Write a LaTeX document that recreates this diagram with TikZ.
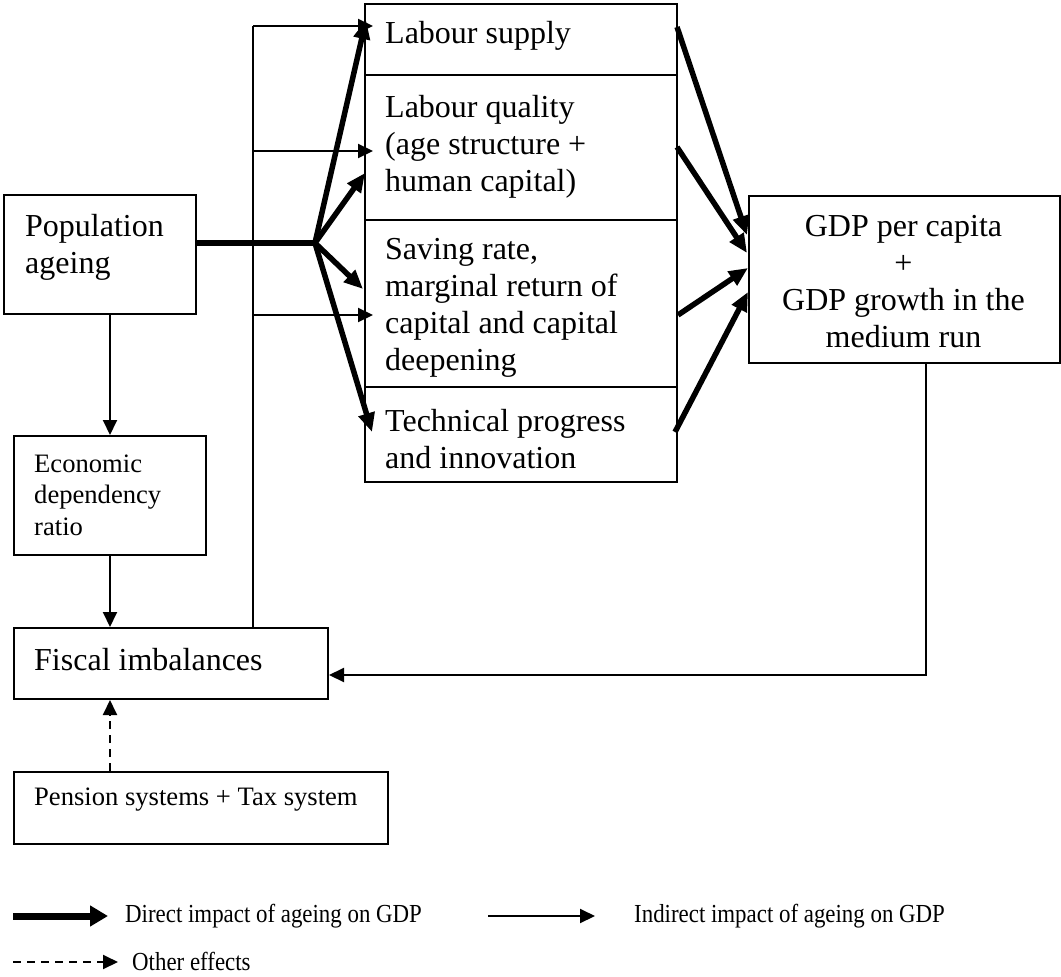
\documentclass[tikz,border=0pt]{standalone}
\usepackage{fontspec}
\usepackage{graphicx}
\setmainfont{Liberation Serif}
\usetikzlibrary{arrows.meta}
\newcommand{\legtext}[1]{\scalebox{0.88}[1]{#1}}
\begin{document}
\begin{tikzpicture}[x=1pt,y=-1pt,
  box/.style={draw, line width=2pt, rectangle, inner sep=0pt, anchor=north west},
  big/.style={font=\fontsize{32}{37}\selectfont, align=left, inner sep=0pt, anchor=west},
  small/.style={font=\fontsize{26.6}{31.5}\selectfont, align=left, inner sep=0pt, anchor=west},
  leg/.style={font=\fontsize{26}{30}\selectfont, inner sep=0pt, anchor=west},
  thinarrow/.style={line width=2pt, -{Triangle[length=15pt,width=14pt]}},
  thinline/.style={line width=2pt},
  fatarrow/.style={line width=5.5pt, -{Triangle[length=19pt,width=16pt]}},
  dasharrow/.style={line width=2pt, dash pattern=on 8pt off 6pt, -{Triangle[length=15pt,width=14pt]}}
]
\useasboundingbox[fill=white] (0,0) rectangle (1061,977);

% boxes
\node[box, minimum width=192pt, minimum height=119pt] (pop) at (3,194) {};
\node[big] (poptxt) at (25,247) {Population\\ageing};
\node[box, minimum width=192pt, minimum height=119pt] (econ) at (13,435) {};
\node[small] (econtxt) at (34,495) {Economic\\dependency\\ratio};
\node[box, minimum width=314pt, minimum height=71pt] (fisc) at (13,627) {};
\node[big] (fisctxt) at (34,660) {Fiscal imbalances};
\node[box, minimum width=374pt, minimum height=72pt] (pen) at (13,771) {};
\node[small] (pentxt) at (34,800) {Pension systems + Tax system};

\node[box, minimum width=312pt, minimum height=71pt] (lab) at (364,3) {};
\node[big] (labtxt) at (385,36) {Labour supply};
\node[box, minimum width=312pt, minimum height=145pt] (qual) at (364,74) {};
\node[big] (qualtxt) at (385,147) {Labour quality\\(age structure +\\human capital)};
\node[box, minimum width=312pt, minimum height=167pt] (sav) at (364,219) {};
\node[big] (savtxt) at (385,308) {Saving rate,\\marginal return of\\capital and capital\\deepening};
\node[box, minimum width=312pt, minimum height=95pt] (tech) at (364,386) {};
\node[big] (techtxt) at (385,439) {Technical progress\\and innovation};

\node[box, minimum width=311pt, minimum height=167pt] (gdp) at (748,195) {};
\node[big, align=center, anchor=center] (gdptxt) at (903.5,282) {GDP per capita\\+\\GDP growth in the\\medium run};

% coordinates
\coordinate (hub) at (315,243);
\coordinate (vtop) at (253,26);
\coordinate (t1) at (373,26);
\coordinate (t2) at (373,151);
\coordinate (t3) at (373,315);
\coordinate (f1) at (366,20);
\coordinate (f2) at (365,173);
\coordinate (f3) at (363,289);
\coordinate (f4) at (372,432);
\coordinate (r1s) at (677,27);
\coordinate (r2s) at (677,147);
\coordinate (r3s) at (678,315);
\coordinate (r4s) at (675,432);
\coordinate (r1e) at (747,235);
\coordinate (r2e) at (747,253);
\coordinate (r3e) at (748,268);
\coordinate (r4e) at (748,292);
\coordinate (fb) at (926,675);
\coordinate (penx) at (110,771);

% left column
\draw[thinarrow] (econ.north |- pop.south) -- (econ.north);
\draw[thinarrow] (econ.south) -- (econ.south |- fisc.north);
\draw[dasharrow] (penx) -- (penx |- fisc.south);

% indirect
\draw[thinline] (vtop |- fisc.north) -- (vtop);
\draw[thinarrow] (vtop) -- (t1);
\draw[thinarrow] (vtop |- t2) -- (t2);
\draw[thinarrow] (vtop |- t3) -- (t3);

% direct
\draw[line width=6pt] (pop.east |- hub) -- (hub);
\draw[fatarrow] (hub) -- (f1);
\draw[fatarrow] (hub) -- (f2);
\draw[fatarrow] (hub) -- (f3);
\draw[fatarrow] (hub) -- (f4);

\draw[fatarrow] (r1s) -- (r1e);
\draw[fatarrow] (r2s) -- (r2e);
\draw[fatarrow] (r3s) -- (r3e);
\draw[fatarrow] (r4s) -- (r4e);

% feedback
\draw[thinarrow] (gdp.south -| fb) -- (fb) -- (fisc.east |- fb);

% legend
\coordinate (l1a) at (13,916);
\coordinate (l1b) at (108,916);
\coordinate (l2a) at (488,916);
\coordinate (l2b) at (595,916);
\coordinate (l3a) at (13,962);
\coordinate (l3b) at (118,962);
\draw[line width=7pt, -{Triangle[length=18pt,width=20pt]}] (l1a) -- (l1b);
\node[leg] (l1t) at (125,916) {\legtext{Direct impact of ageing on GDP}};
\draw[thinarrow] (l2a) -- (l2b);
\node[leg] (l2t) at (634,916) {\legtext{Indirect impact of ageing on GDP}};
\draw[dasharrow] (l3a) -- (l3b);
\node[leg] (l3t) at (132,961) {\legtext{Other effects}};
\end{tikzpicture}
\end{document}
